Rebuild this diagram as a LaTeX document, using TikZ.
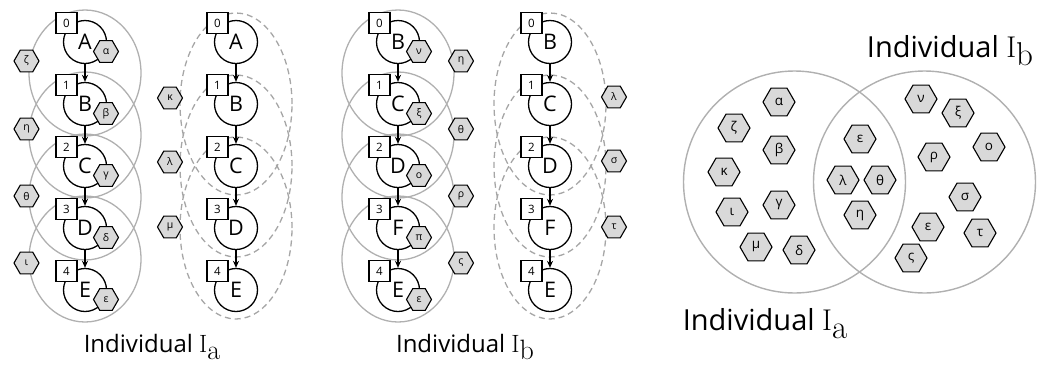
\documentclass[tikz,border=0pt]{standalone}
\usepackage{fontspec}
\newfontfamily\osans{Open Sans}
\usetikzlibrary{shapes.geometric,arrows.meta,calc,backgrounds}
\definecolor{hexfill}{HTML}{D9D9D9}
\definecolor{ringgray}{HTML}{B0B0B0}
\definecolor{dashgray}{HTML}{A6A6A6}
\tikzset{
 state/.style={circle,draw=black,line width=1.3pt,fill=white,minimum size=43pt,inner sep=0pt,font=\osans\fontsize{21.5}{22}\selectfont},
 numbox/.style={rectangle,draw=black,line width=1.1pt,fill=white,minimum size=21pt,inner sep=0pt,font=\osans\fontsize{11.5}{12}\selectfont},
 hexs/.style={regular polygon,regular polygon sides=6,draw=black,line width=1.1pt,fill=hexfill,minimum size=25pt,inner sep=0pt,font=\osans\fontsize{10.5}{11}\selectfont},
 hexl/.style={hexs,minimum size=32pt,font=\osans\fontsize{13.5}{14}\selectfont},
 ring/.style={draw=ringgray,line width=1.3pt},
 dring/.style={draw=dashgray,line width=1.3pt,dash pattern=on 6pt off 4pt},
 vring/.style={draw=ringgray,line width=1.4pt},
 arr/.style={-{Stealth[length=7pt,width=6pt]},line width=1.2pt},
 lbl/.style={anchor=base,inner sep=0pt},
}
\newcommand\indlab[5]{{\osans\fontsize{#1}{#1}\selectfont Individual\ }{\rmfamily\fontsize{#2}{#2}\selectfont I\raisebox{#4}{\fontsize{#3}{#3}\selectfont #5}}}
\begin{document}
\begin{tikzpicture}[x=1pt,y=-1pt]
\useasboundingbox (0,0) rectangle (1042,365);
% column 1 : Individual Ia, solid
\foreach \i/\L/\g/\yy in {0/A/α/42,1/B/β/104,2/C/γ/166,3/D/δ/228,4/E/ε/290} {
  \node[state] (a\i) at (85,\yy) {\L};
  \node[numbox] (an\i) at ($(a\i)+(-18.5,-19)$) {\i};
  \node[hexs] (ah\i) at ($(a\i)+(21,9.5)$) {\g};
}
% column 2 : dashed
\foreach \i/\L/\yy in {0/A/42,1/B/104,2/C/166,3/D/228,4/E/290} {
  \node[state] (b\i) at (236,\yy) {\L};
  \node[numbox] (bn\i) at ($(b\i)+(-18.5,-19)$) {\i};
}
% column 3 : Individual Ib, solid
\foreach \i/\L/\g/\yy in {0/B/ν/42,1/C/ξ/104,2/D/ο/166,3/F/π/228,4/E/ε/290} {
  \node[state] (c\i) at (398,\yy) {\L};
  \node[numbox] (cn\i) at ($(c\i)+(-18.5,-19)$) {\i};
  \node[hexs] (ch\i) at ($(c\i)+(21,9.5)$) {\g};
}
% column 4 : dashed
\foreach \i/\L/\yy in {0/B/42,1/C/104,2/D/166,3/F/228,4/E/290} {
  \node[state] (d\i) at (550,\yy) {\L};
  \node[numbox] (dn\i) at ($(d\i)+(-18.5,-19)$) {\i};
}
% arrows
\foreach \i/\j in {0/1,1/2,2/3,3/4} {
  \draw[arr] (a\i) -- (a\j);
  \draw[arr] (b\i) -- (b\j);
  \draw[arr] (c\i) -- (c\j);
  \draw[arr] (d\i) -- (d\j);
}
% side hexagons
\node[hexs] (l1) at (26.5,61) {ζ};
\node[hexs] (l2) at (26.5,129) {η};
\node[hexs] (l3) at (26.5,196) {θ};
\node[hexs] (l4) at (26.5,263) {ι};
\node[hexs] (m1) at (170,98) {κ};
\node[hexs] (m2) at (170,162) {λ};
\node[hexs] (m3) at (170,227) {μ};
\node[hexs] (r1) at (461,61) {η};
\node[hexs] (r2) at (461,129) {θ};
\node[hexs] (r3) at (461,196) {ρ};
\node[hexs] (r4) at (461,263) {ς};
\node[hexs] (s1) at (614,97) {λ};
\node[hexs] (s2) at (614,161) {σ};
\node[hexs] (s3) at (614,227) {τ};
% enclosing ellipses
\begin{scope}[on background layer]
\foreach \i/\j in {0/1,1/2,2/3,3/4} {
  \draw[ring] ($(a\i)!0.5!(a\j)$) ellipse [x radius=56pt, y radius=63pt];
  \draw[ring] ($(c\i)!0.5!(c\j)$) ellipse [x radius=56pt, y radius=63pt];
}
\foreach \i in {1,2,3} {
  \draw[dring] (b\i) ellipse [x radius=56pt, y radius=91pt];
  \draw[dring] (d\i) ellipse [x radius=56pt, y radius=91pt];
}
\end{scope}
% column labels
\node[lbl] (la) at (152,352) {\indlab{24}{25}{28}{-7pt}{a}};
\node[lbl] (lb) at (465,352) {\indlab{24}{25}{28}{-7pt}{b}};
% Venn diagram
\node[circle,vring,minimum size=222pt,inner sep=0pt] (va) at (794.5,182) {};
\node[circle,vring,minimum size=222pt,inner sep=0pt] (vb) at (924.5,182) {};
\node[lbl] (vla) at (765,330) {\indlab{29}{30}{33}{-8pt}{a}};
\node[lbl] (vlb) at (950,57) {\indlab{29}{30}{33}{-8pt}{b}};
\foreach \n/\g/\px/\py in {v1/α/779/102, v2/ζ/734/128, v3/β/779/150, v4/κ/724/172,
  v5/ι/732/212, v6/γ/779/205, v7/μ/756/247, v8/δ/799/250,
  v9/ε/860/139, v10/λ/843/180, v11/θ/880/180, v12/η/860/215,
  v13/ν/921/99, v14/ξ/958/113, v15/ο/989/147, v16/ρ/934/157,
  v17/σ/965/197, v18/ε/928/227, v19/τ/980/233, v20/ς/911/258} {
  \node[hexl] (\n) at (\px,\py) {\g};
}
\end{tikzpicture}
\end{document}
